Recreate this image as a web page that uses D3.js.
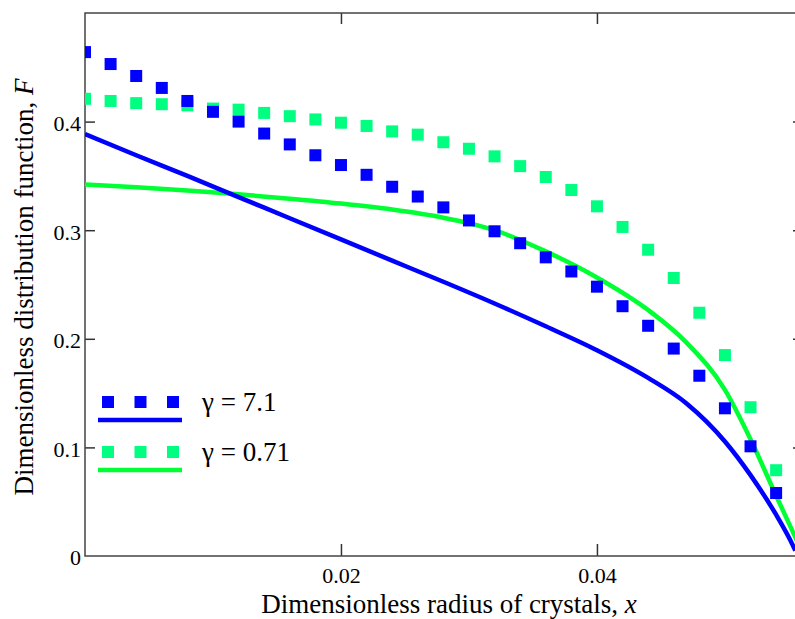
<!DOCTYPE html>
<html>
<head>
<meta charset="utf-8">
<script src="https://cdn.jsdelivr.net/npm/d3@7"></script>
<style>
    body { margin: 0; background: #fff; }
</style>
</head>
<body>
<svg id="chart" width="795" height="619"></svg>
<script>
// marker points (squares)
const markX = [0, 0.002, 0.004, 0.006, 0.008, 0.010, 0.012, 0.014, 0.016, 0.018,
    0.020, 0.022, 0.024, 0.026, 0.028, 0.030, 0.032, 0.034, 0.036, 0.038,
    0.040, 0.042, 0.044, 0.046, 0.048, 0.050, 0.052, 0.054];
const markBlue = [0.464, 0.453, 0.442, 0.431, 0.419, 0.409, 0.400, 0.389, 0.379, 0.369,
    0.360, 0.351, 0.340, 0.331, 0.321, 0.309, 0.299, 0.288, 0.275, 0.262,
    0.248, 0.230, 0.212, 0.191, 0.166, 0.136, 0.101, 0.058];
const markGreen = [0.421, 0.419, 0.417, 0.416, 0.415, 0.412, 0.411, 0.408, 0.405, 0.402,
    0.399, 0.396, 0.391, 0.388, 0.381, 0.375, 0.368, 0.359, 0.349, 0.337,
    0.322, 0.303, 0.282, 0.256, 0.224, 0.185, 0.137, 0.079];

// solid curves
const lineXBlue = [0, 0.004, 0.008, 0.012, 0.016, 0.020, 0.024, 0.028, 0.032, 0.036,
    0.040, 0.044, 0.047, 0.050, 0.052, 0.054, 0.055, 0.0555];
const lineBlue = [0.3885, 0.369, 0.350, 0.3305, 0.311, 0.2915, 0.272, 0.2525, 0.2325, 0.2115,
    0.1895, 0.164, 0.1405, 0.1055, 0.0745, 0.038, 0.017, 0.005];
const lineXGreen = [0, 0.004, 0.008, 0.012, 0.016, 0.020, 0.024, 0.028, 0.032, 0.036,
    0.040, 0.044, 0.047, 0.050, 0.052, 0.054, 0.055, 0.0557];
const lineGreen = [0.342, 0.3395, 0.3365, 0.333, 0.329, 0.3245, 0.319, 0.3115, 0.300, 0.2805,
    0.2565, 0.2265, 0.1965, 0.153, 0.1075, 0.0555, 0.030, 0.012];

const yTicks = [0, 0.1, 0.2, 0.3, 0.4];
const xTicks = [0.02, 0.04];
const legendNames = ["\u03b3 = 7.1", "\u03b3 = 0.71"];

const blue = "#0000ff";
const greenMark = "#00ff80";
const greenLine = "#00ff33";
const serif = '"Liberation Serif", "Times New Roman", serif';

var svg = d3.select("#chart");

const plot = {left: 85, top: 13, right: 803, bottom: 556};

var x = d3.scaleLinear().domain([0, 0.0561]).range([plot.left, plot.right]);
var y = d3.scaleLinear().domain([0, 0.5]).range([plot.bottom, plot.top]);

svg.append("clipPath").attr("id", "clip")
    .append("rect")
    .attr("x", plot.left).attr("y", plot.top)
    .attr("width", plot.right - plot.left).attr("height", plot.bottom - plot.top);

// axes, ticks pointing inward
var axB = svg.append("g")
    .attr("transform", `translate(0,${plot.bottom})`)
    .call(d3.axisBottom(x).tickValues(xTicks).tickSize(-12).tickSizeOuter(0)
        .tickPadding(11).tickFormat(d3.format(".2f")));
var axT = svg.append("g")
    .attr("transform", `translate(0,${plot.top})`)
    .call(d3.axisTop(x).tickValues(xTicks).tickSize(-11).tickSizeOuter(0).tickFormat(""));
var axL = svg.append("g")
    .attr("transform", `translate(${plot.left},0)`)
    .call(d3.axisLeft(y).tickValues(yTicks).tickSize(-10).tickSizeOuter(0).tickPadding(4)
        .tickFormat(d => d === 0 ? "0" : d3.format(".1f")(d)));
var axR = svg.append("g")
    .attr("transform", `translate(${plot.right},0)`)
    .call(d3.axisRight(y).tickValues(yTicks.slice(1)).tickSize(-10).tickSizeOuter(0).tickFormat(""));

[axB, axT, axL, axR].forEach(function (g) {
    g.select(".domain").remove();
    g.attr("color", "#333");
    g.selectAll(".tick line").attr("stroke-width", 1.5);
    g.selectAll(".tick text")
        .style("font-family", serif)
        .style("font-size", "22px")
        .attr("fill", "#000");
});
axL.selectAll(".tick text").attr("dy", "0.40em");
axL.selectAll(".tick").filter(d => d === 0).select("line").remove();

// frame
svg.append("rect")
    .attr("x", plot.left).attr("y", plot.top)
    .attr("width", plot.right - plot.left).attr("height", plot.bottom - plot.top)
    .attr("fill", "none")
    .attr("stroke", "#444")
    .attr("stroke-width", 1.5);

var g = svg.append("g").attr("clip-path", "url(#clip)");

var line = d3.line()
    .x(d => x(d[0]))
    .y(d => y(d[1]))
    .curve(d3.curveMonotoneX);

g.append("path")
    .datum(lineXGreen.map((v, i) => [v, lineGreen[i]]))
    .attr("d", line)
    .attr("fill", "none")
    .attr("stroke", greenLine)
    .attr("stroke-width", 4.5);

g.append("path")
    .datum(lineXBlue.map((v, i) => [v, lineBlue[i]]))
    .attr("d", line)
    .attr("fill", "none")
    .attr("stroke", blue)
    .attr("stroke-width", 4.5);

const sq = 12;

g.selectAll(".mg")
    .data(markX.map((v, i) => [v, markGreen[i]]))
    .enter()
    .append("rect")
    .attr("class", "mg")
    .attr("x", d => x(d[0]) - sq / 2)
    .attr("y", d => y(d[1]) - sq / 2)
    .attr("width", sq).attr("height", sq)
    .attr("fill", greenMark);

g.selectAll(".mb")
    .data(markX.map((v, i) => [v, markBlue[i]]))
    .enter()
    .append("rect")
    .attr("class", "mb")
    .attr("x", d => x(d[0]) - sq / 2)
    .attr("y", d => y(d[1]) - sq / 2)
    .attr("width", sq).attr("height", sq)
    .attr("fill", blue);

// legend
const legend = [
    {name: legendNames[0], mark: blue, line: blue, top: 402},
    {name: legendNames[1], mark: greenMark, line: greenLine, top: 452}
];
legend.forEach(function (item) {
    var lg = svg.append("g");
    [108, 140.5, 173].forEach(function (cx) {
        lg.append("rect")
            .attr("x", cx - 6).attr("y", item.top - 6)
            .attr("width", 12).attr("height", 12)
            .attr("fill", item.mark);
    });
    lg.append("line")
        .attr("x1", 98).attr("x2", 182)
        .attr("y1", item.top + 18).attr("y2", item.top + 18)
        .attr("stroke", item.line)
        .attr("stroke-width", 4.5);
    lg.append("text")
        .attr("x", 202).attr("y", item.top + 9)
        .style("font-family", serif)
        .style("font-size", "27px")
        .text(item.name);
});

// axis titles
var xt = svg.append("text")
    .attr("x", 449).attr("y", 613)
    .attr("text-anchor", "middle")
    .style("font-family", serif)
    .style("font-size", "27px");
xt.append("tspan").text("Dimensionless radius of crystals, ");
xt.append("tspan").attr("font-style", "italic").text("x");

var yt = svg.append("text")
    .attr("transform", "translate(33,287) rotate(-90)")
    .attr("text-anchor", "middle")
    .style("font-family", serif)
    .style("font-size", "27px");
yt.append("tspan").text("Dimensionless distribution function, ");
yt.append("tspan").attr("font-style", "italic").text("F");
</script>
</body>
</html>
